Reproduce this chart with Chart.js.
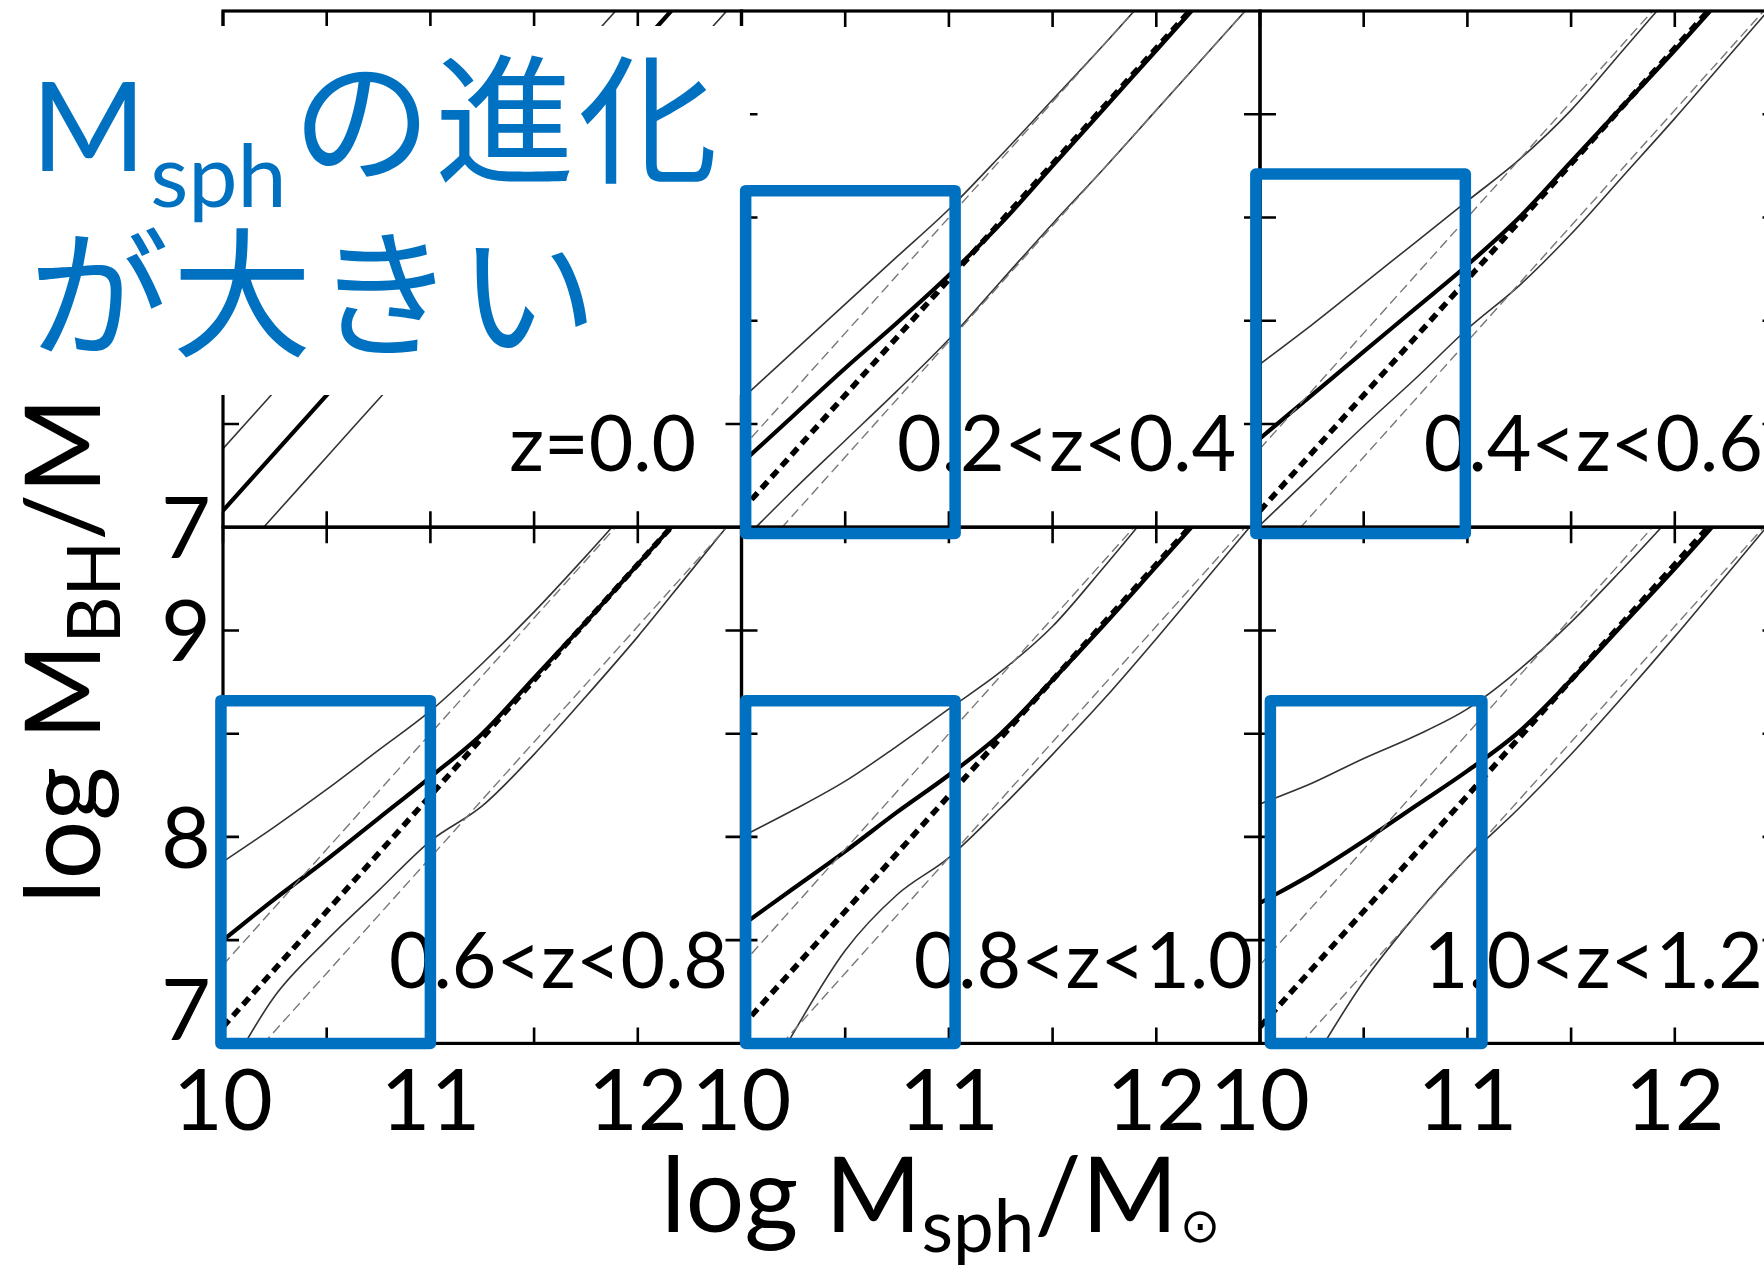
<!DOCTYPE html>
<html>
<head>
<meta charset="utf-8">
<script src="https://cdn.jsdelivr.net/npm/chart.js@4.4.1/dist/chart.umd.min.js"></script>
<style>
  html, body { margin: 0; padding: 0; background: #fff; }
  #stage { position: relative; width: 1764px; height: 1272px; overflow: hidden; background: #fff; }
  #plots canvas, #marks { position: absolute; left: 0; top: 0; }
  .txt { position: absolute; white-space: nowrap; line-height: 1; font-family: Lato, sans-serif; color: #000; }
  .bl { display: inline-block; width: 0; height: 0; }
  .sub { font-size: 0.7em; position: relative; top: 0.27em; }
  .sun { font-family: 'DejaVu Sans', sans-serif; font-size: 0.46em; position: relative; top: 0.2em; margin-left: 2px; }
  #ytitle, #xtitle { font-size: 104px; }
  #cover { position: absolute; left: 0; top: 26px; width: 750px; height: 369px; background: #fff; }
  .blue { color: #0070C0; }
  .jp { font-family: 'Noto Sans CJK JP', sans-serif; font-size: 140px; letter-spacing: 3px; }
  #headM { font-size: 124px; }
  #headM .hsub { font-size: 88px; position: relative; top: 36px; margin-left: 4px; }
</style>
</head>
<body>
<div id="stage">
  <div id="plots"></div>
  <div id="ytitle" class="txt"><span class="bl"></span>log M<span class="sub">BH</span>/M<span class="sun">⊙</span></div>
  <div id="xtitle" class="txt"><span class="bl"></span>log M<span class="sub">sph</span>/M<span class="sun">⊙</span></div>
  <div id="cover"></div>
  <div id="headM" class="txt blue"><span class="bl"></span>M<span class="hsub">sph</span></div>
  <div id="headJP1" class="txt blue jp"><span class="bl"></span>の進化</div>
  <div id="headJP2" class="txt blue jp"><span class="bl"></span>が大きい</div>
  <canvas id="marks" width="1764" height="1272"></canvas>
</div>
<script>
// log M_sph sampling shared by every curve
const massGrid = [10, 10.25, 10.5, 10.75, 11, 11.25, 11.5, 11.75, 12, 12.25, 12.5];

// local (z = 0) M_BH–M_sph relation and its scatter envelope
const localMean  = [7.08, 7.36, 7.64, 7.92, 8.20, 8.48, 8.76, 9.04, 9.32, 9.60, 9.88];
const localUpper = [7.38, 7.66, 7.94, 8.22, 8.50, 8.78, 9.06, 9.34, 9.62, 9.90, 10.18];
const localLower = [6.78, 7.06, 7.34, 7.62, 7.90, 8.18, 8.46, 8.74, 9.02, 9.30, 9.58];

// 0.2 < z < 0.4
const meanBin1  = [7.31, 7.54, 7.77, 7.99, 8.22, 8.47, 8.75, 9.03, 9.31, 9.59, 9.87];
const upperBin1 = [7.62, 7.85, 8.08, 8.31, 8.54, 8.80, 9.07, 9.34, 9.62, 9.90, 10.18];
const lowerBin1 = [6.93, 7.18, 7.42, 7.66, 7.91, 8.19, 8.47, 8.74, 9.02, 9.30, 9.58];

// 0.4 < z < 0.6
const meanBin2  = [7.43, 7.64, 7.85, 8.06, 8.27, 8.50, 8.77, 9.04, 9.31, 9.59, 9.87];
const upperBin2 = [7.79, 7.98, 8.18, 8.38, 8.58, 8.78, 9.02, 9.31, 9.60, 9.89, 10.18];
const lowerBin2 = [7.01, 7.25, 7.49, 7.72, 7.96, 8.17, 8.42, 8.70, 8.98, 9.27, 9.56];

// 0.6 < z < 0.8
const meanBin3  = [7.50, 7.70, 7.89, 8.09, 8.29, 8.50, 8.77, 9.04, 9.32, 9.60, 9.88];
const upperBin3 = [7.88, 8.05, 8.23, 8.42, 8.61, 8.84, 9.09, 9.36, 9.64, 9.92, 10.20];
const lowerBin3 = [6.82, 7.23, 7.50, 7.74, 7.98, 8.15, 8.40, 8.68, 8.97, 9.28, 9.59];

// 0.8 < z < 1.0
const meanBin4  = [7.57, 7.75, 7.93, 8.12, 8.30, 8.50, 8.76, 9.03, 9.31, 9.59, 9.87];
const upperBin4 = [8.00, 8.13, 8.27, 8.44, 8.62, 8.80, 9.02, 9.31, 9.61, 9.90, 10.19];
const lowerBin4 = [6.60, 7.05, 7.45, 7.72, 7.90, 8.14, 8.40, 8.67, 8.96, 9.26, 9.56];

// 1.0 < z < 1.2
const meanBin5  = [7.68, 7.82, 7.98, 8.15, 8.32, 8.51, 8.76, 9.03, 9.30, 9.58, 9.86];
const upperBin5 = [8.16, 8.26, 8.38, 8.49, 8.62, 8.81, 9.04, 9.30, 9.57, 9.85, 10.13];
const lowerBin5 = [6.45, 6.90, 7.30, 7.62, 7.90, 8.14, 8.40, 8.68, 8.97, 9.27, 9.57];

const panelLabels = ['z=0.0', '0.2<z<0.4', '0.4<z<0.6', '0.6<z<0.8', '0.8<z<1.0', '1.0<z<1.2'];

// axis ticks
const xTickValues = [10, 10.5, 11, 11.5, 12];
const yTickValues = [7.5, 8, 8.5, 9];
const xLabelValues = [10, 11, 12];
const xTickLabels = ['10', '11', '12'];
const yLabelValues = [7, 8, 9];
const yTickLabels = ['7', '8', '9'];

// low-mass region highlighted in each redshift bin (log M_sph, log M_BH)
const boxMassRange = [null, [10.02, 11.03], [9.98, 10.99], [9.99, 11.00], [10.02, 11.03], [10.05, 11.07]];
const boxBhRange   = [null, [6.97, 8.63], [6.97, 8.71], [7.00, 8.66], [7.00, 8.66], [7.00, 8.66]];

// ---------------------------------------------------------------------------
const CANVAS_W = 1800, CANVAS_H = 1272;
const GRID = { left: 223, top: 11, width: 518.5, height: 516.2 };
const TICK = 16;
const BLUE = '#0070C0';

const series = [
  [localMean, localUpper, localLower],
  [meanBin1, upperBin1, lowerBin1],
  [meanBin2, upperBin2, lowerBin2],
  [meanBin3, upperBin3, lowerBin3],
  [meanBin4, upperBin4, lowerBin4],
  [meanBin5, upperBin5, lowerBin5]
];
const labelAt = [11.38, 10.75, 10.79, 10.80, 10.83, 10.79];

const toPoints = ys => massGrid.map((x, i) => ({ x: x, y: ys[i] }));

const thinDashed  = { borderColor: '#777', borderWidth: 1.4, borderDash: [10, 5] };
const thinSolid   = { borderColor: '#333', borderWidth: 1.6, borderDash: [] };
const thickDashed = { borderColor: '#000', borderWidth: 5.5, borderDash: [9, 6] };
const thickSolid  = { borderColor: '#000', borderWidth: 4.2, borderDash: [] };

function line(ys, style) {
  return Object.assign({
    data: toPoints(ys),
    pointRadius: 0,
    fill: false,
    cubicInterpolationMode: 'monotone',
    clip: 0
  }, style);
}

// frame, inward ticks, tick labels and the redshift label of one panel
const panelFrame = {
  id: 'panelFrame',
  afterDatasetsDraw(chart, args, opts) {
    const ctx = chart.ctx, a = chart.chartArea;
    const xs = chart.scales.x, ys = chart.scales.y;
    ctx.save();
    ctx.strokeStyle = '#000';
    ctx.lineWidth = 2.6;
    ctx.beginPath();
    xTickValues.forEach(v => {
      const px = xs.getPixelForValue(v);
      ctx.moveTo(px, a.bottom); ctx.lineTo(px, a.bottom - TICK);
      ctx.moveTo(px, a.top); ctx.lineTo(px, a.top + TICK);
    });
    yTickValues.forEach(v => {
      const py = ys.getPixelForValue(v);
      ctx.moveTo(a.left, py); ctx.lineTo(a.left + TICK, py);
      ctx.moveTo(a.right, py); ctx.lineTo(a.right - TICK, py);
    });
    ctx.stroke();
    ctx.lineWidth = 3.2;
    ctx.strokeRect(a.left, a.top, a.right - a.left, a.bottom - a.top);

    ctx.fillStyle = '#000';
    ctx.textBaseline = 'alphabetic';
    ctx.font = '77px Lato';
    ctx.textAlign = 'left';
    ctx.fillText(opts.label, xs.getPixelForValue(opts.labelAt), ys.getPixelForValue(7.27));

    ctx.font = '86px Lato';
    if (opts.showX) {
      ctx.textAlign = 'center';
      xLabelValues.forEach((v, i) => ctx.fillText(xTickLabels[i], xs.getPixelForValue(v), a.bottom + 87));
    }
    if (opts.showY) {
      ctx.textAlign = 'right';
      yLabelValues.forEach((v, i) => {
        const py = ys.getPixelForValue(v);
        const base = (opts.raiseLowest && i === 0) ? py - 3 : py + 31;
        ctx.fillText(yTickLabels[i], a.left - 12, base);
      });
    }
    ctx.restore();
  }
};

const charts = [];
const plots = document.getElementById('plots');
for (let i = 0; i < 6; i++) {
  const row = Math.floor(i / 3), col = i % 3;
  const left = GRID.left + col * GRID.width;
  const top = GRID.top + row * GRID.height;
  const cv = document.createElement('canvas');
  cv.width = CANVAS_W; cv.height = CANVAS_H;
  cv.style.width = CANVAS_W + 'px'; cv.style.height = CANVAS_H + 'px';
  plots.appendChild(cv);

  const [mean, upper, lower] = series[i];
  const datasets = [];
  if (i > 0) {
    datasets.push(line(localUpper, thinDashed), line(localLower, thinDashed));
  }
  datasets.push(line(upper, thinSolid), line(lower, thinSolid));
  if (i > 0) datasets.push(line(localMean, thickDashed));
  datasets.push(line(mean, thickSolid));

  charts.push(new Chart(cv, {
    type: 'line',
    data: { datasets: datasets },
    options: {
      responsive: false,
      maintainAspectRatio: false,
      animation: false,
      devicePixelRatio: 1,
      events: [],
      layout: {
        padding: {
          left: left,
          top: top,
          right: CANVAS_W - left - GRID.width,
          bottom: CANVAS_H - top - GRID.height
        }
      },
      scales: {
        x: { type: 'linear', min: 10, max: 12.5, display: false },
        y: { type: 'linear', min: 7, max: 9.5, display: false }
      },
      plugins: {
        legend: { display: false },
        tooltip: { enabled: false },
        panelFrame: {
          label: panelLabels[i],
          labelAt: labelAt[i],
          showX: row === 1,
          showY: col === 0,
          raiseLowest: row === 1
        }
      }
    },
    plugins: [panelFrame]
  }));
}

// highlight boxes, drawn above everything else
const mctx = document.getElementById('marks').getContext('2d');
mctx.strokeStyle = BLUE;
mctx.lineWidth = 11.5;
mctx.lineJoin = 'round';
charts.forEach((ch, i) => {
  if (!boxMassRange[i]) return;
  const xs = ch.scales.x, ys = ch.scales.y;
  const x0 = xs.getPixelForValue(boxMassRange[i][0]);
  const x1 = xs.getPixelForValue(boxMassRange[i][1]);
  const y0 = ys.getPixelForValue(boxBhRange[i][1]);
  const y1 = ys.getPixelForValue(boxBhRange[i][0]);
  mctx.strokeRect(x0, y0, x1 - x0, y1 - y0);
});

// text placement by baseline
const stage = document.getElementById('stage');
function baselineOffset(el) {
  el.style.left = '0px'; el.style.top = '0px';
  const m = el.querySelector('.bl').getBoundingClientRect();
  return m.bottom - stage.getBoundingClientRect().top;
}
function place(id, left, baseline) {
  const el = document.getElementById(id);
  const b = baselineOffset(el);
  el.style.left = left + 'px';
  el.style.top = (baseline - b) + 'px';
}
place('xtitle', 661, 1232);
place('headM', 31, 171);
place('headJP1', 292, 172);
place('headJP2', 29, 346);

const yt = document.getElementById('ytitle');
const yb = baselineOffset(yt);
yt.style.transformOrigin = '0 0';
yt.style.transform = 'rotate(-90deg)';
yt.style.left = (100 - yb) + 'px';
yt.style.top = '904px';
</script>
</body>
</html>
